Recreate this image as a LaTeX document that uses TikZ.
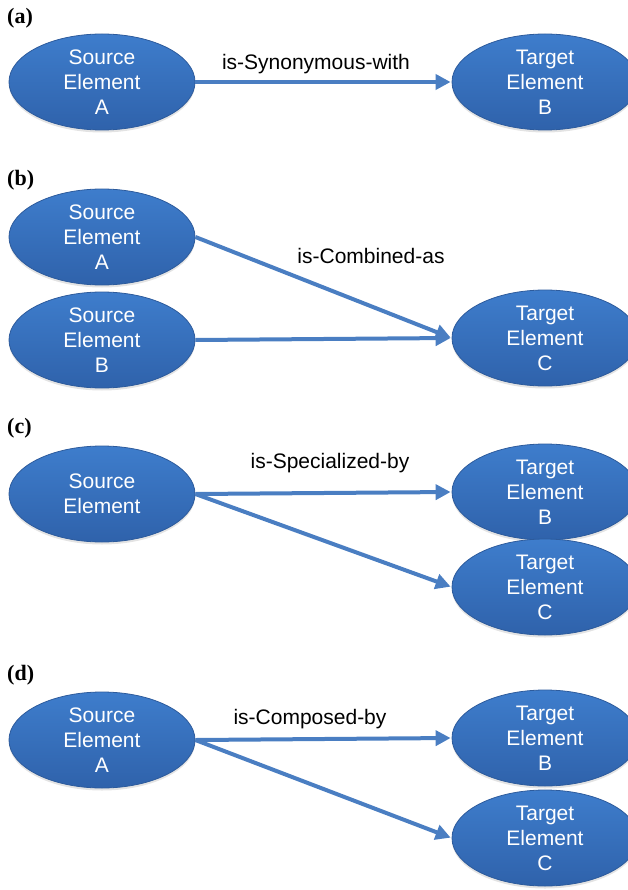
\documentclass[tikz,border=0pt]{standalone}
\usepackage{fontspec}
\setmainfont{Liberation Serif}
\setsansfont{Liberation Sans}
\usetikzlibrary{shapes.geometric,arrows.meta,shadows}
\definecolor{elemtop}{HTML}{3E7DCC}
\definecolor{elembot}{HTML}{2F62AB}
\definecolor{elemrim}{HTML}{2D5B9C}
\definecolor{relblue}{HTML}{4A7EC2}
\begin{document}
\begin{tikzpicture}[x=1pt, y=-1pt,
        element/.style={ellipse, draw=elemrim, line width=0.8pt, top color=elemtop, bottom color=elembot,
                minimum width=186pt, minimum height=96pt, inner sep=0pt, align=center, text=white,
                font=\sffamily\fontsize{21}{25}\selectfont,
                drop shadow={opacity=0.22, shadow xshift=0pt, shadow yshift=-2.5pt}},
        relation/.style={draw=relblue, line width=4pt, -{Triangle[length=15pt, width=15pt]}, shorten >=1pt},
        rellabel/.style={font=\sffamily\fontsize{21}{25}\selectfont, inner sep=0pt},
        panel/.style={font=\bfseries\fontsize{22}{26}\selectfont, anchor=west, inner sep=0pt}]
    \useasboundingbox (0,0) rectangle (627,890);

    % (a)
    \node[panel] (pa) at (7,18) {(a)};
    \node[element] (asrc) at (102,82) {Source\\Element\\A};
    \node[element] (atgt) at (545,82) {Target\\Element\\B};
    \draw[relation] (asrc) -- (atgt);
    \node[rellabel] (alab) at (316,64) {is-Synonymous-with};

    % (b)
    \node[panel] (pb) at (7,180) {(b)};
    \node[element] (bsrca) at (102,237) {Source\\Element\\A};
    \node[element] (bsrcb) at (102,340) {Source\\Element\\B};
    \node[element] (btgt) at (545,338) {Target\\Element\\C};
    \draw[relation] (bsrca.east) -- (btgt.west);
    \draw[relation] (bsrcb.east) -- (btgt.west);
    \node[rellabel] (blab) at (371,256) {is-Combined-as};

    % (c)
    \node[panel] (pc) at (7,428) {(c)};
    \node[element] (csrc) at (102,494) {Source\\Element};
    \node[element] (ctgtb) at (545,492) {Target\\Element\\B};
    \node[element] (ctgtc) at (545,587) {Target\\Element\\C};
    \draw[relation] (csrc.east) -- (ctgtb.west);
    \draw[relation] (csrc.east) -- (ctgtc.west);
    \node[rellabel] (clab) at (330,463) {is-Specialized-by};

    % (d)
    \node[panel] (pd) at (7,675) {(d)};
    \node[element] (dsrc) at (102,740) {Source\\Element\\A};
    \node[element] (dtgtb) at (545,738) {Target\\Element\\B};
    \node[element] (dtgtc) at (545,838) {Target\\Element\\C};
    \draw[relation] (dsrc.east) -- (dtgtb.west);
    \draw[relation] (dsrc.east) -- (dtgtc.west);
    \node[rellabel] (dlab) at (310,719) {is-Composed-by};
\end{tikzpicture}
\end{document}
